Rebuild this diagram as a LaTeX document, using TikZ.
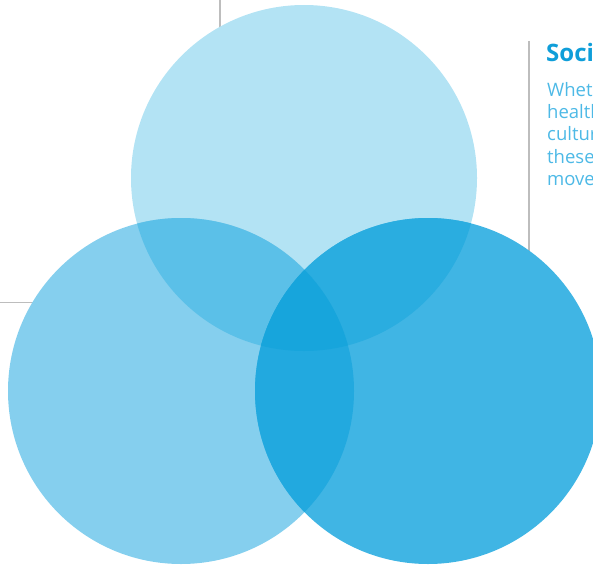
\documentclass[tikz,border=0pt]{standalone}
\usepackage{fontspec}
\setmainfont{Open Sans}
\definecolor{linecol}{HTML}{BDBDBD}
\definecolor{topc}{HTML}{B3E3F4}
\definecolor{leftc}{HTML}{85CFEE}
\definecolor{rightc}{HTML}{40B5E4}
\definecolor{tlc}{HTML}{5BC0E8}
\definecolor{trc}{HTML}{2AADE0}
\definecolor{lrc}{HTML}{22A9DF}
\definecolor{midc}{HTML}{17A5DC}
\definecolor{headc}{HTML}{0F9ED9}
\definecolor{bodyc}{HTML}{4DB9E6}
\tikzset{
  rule/.style={draw=linecol, line width=1.2pt},
  headtext/.style={anchor=base west, inner sep=0pt, text=headc, font=\fontsize{24}{28}\selectfont\bfseries},
  bodytext/.style={anchor=base west, inner sep=0pt, text=bodyc, font=\fontsize{18.5}{22}\selectfont},
}
\begin{document}
\begin{tikzpicture}[x=1pt,y=-1pt]
\useasboundingbox (0,0) rectangle (593,564);
\coordinate (ctop) at (304,178);
\coordinate (cleft) at (181,391);
\coordinate (cright) at (428,391);
% gray rules
\coordinate (r1a) at (220,0);   \coordinate (r1b) at (220,120);
\coordinate (r2a) at (0,302.5); \coordinate (r2b) at (60,302.5);
\coordinate (r3a) at (529,41);  \coordinate (r3b) at (529,300);
\draw[rule] (r1a) -- (r1b);
\draw[rule] (r2a) -- (r2b);
\draw[rule] (r3a) -- (r3b);
% circles
\fill[topc] (ctop) circle (173pt);
\fill[leftc] (cleft) circle (173pt);
\fill[rightc] (cright) circle (173pt);
\begin{scope}
  \clip (ctop) circle (173pt);
  \fill[tlc] (cleft) circle (173pt);
  \fill[trc] (cright) circle (173pt);
\end{scope}
\begin{scope}
  \clip (cleft) circle (173pt);
  \fill[lrc] (cright) circle (173pt);
\end{scope}
\begin{scope}
  \clip (ctop) circle (173pt);
  \clip (cleft) circle (173pt);
  \fill[midc] (cright) circle (173pt);
\end{scope}
% text
\begin{scope}
  \clip (0,0) rectangle (593,564);
  \node[headtext] (h) at (546,62) {Soci};
  \node[bodytext] (t1) at (547,97) {Whet};
  \node[bodytext] (t2) at (547,119) {health};
  \node[bodytext] (t3) at (547,141) {cultur};
  \node[bodytext] (t4) at (547,163) {these};
  \node[bodytext] (t5) at (547,185) {move};
\end{scope}
\end{tikzpicture}
\end{document}
